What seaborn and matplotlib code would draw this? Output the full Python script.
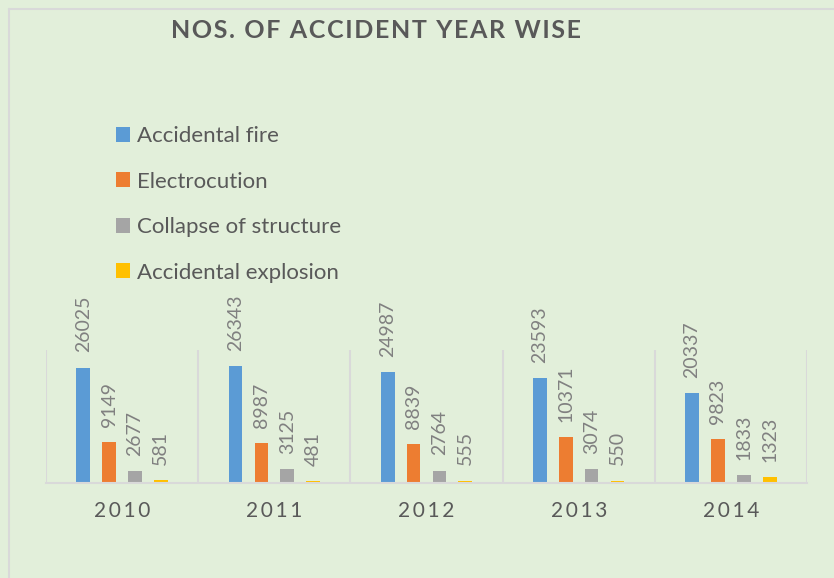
import pandas as pd
import numpy as np
import seaborn as sns
import matplotlib.pyplot as plt
from matplotlib.lines import Line2D

# chart data
years = ['2010', '2011', '2012', '2013', '2014']
causes = ['Accidental fire', 'Electrocution', 'Collapse of structure', 'Accidental explosion']
fire = [26025, 26343, 24987, 23593, 20337]
electrocution = [9149, 8987, 8839, 10371, 9823]
collapse = [2677, 3125, 2764, 3074, 1833]
explosion = [581, 481, 555, 550, 1323]
colors = ['#5B9BD5', '#ED7D31', '#A5A5A5', '#FFC000']

df = pd.DataFrame({
    'year': years * 4,
    'cause': np.repeat(causes, len(years)),
    'count': fire + electrocution + collapse + explosion,
})

bg = '#E2EFDA'
sns.set_theme(style='white', rc={'figure.facecolor': bg, 'axes.facecolor': bg})
fonts = ['Lato', 'DejaVu Sans']
plt.rcParams['font.family'] = fonts

W, H = 834, 578
fig = plt.figure(figsize=(W / 100, H / 100), dpi=100)
ax = fig.add_axes([46 / W, 1 - 483 / H, (807 - 46) / W, (483 - 350) / H])

sns.barplot(data=df, x='year', y='count', hue='cause', palette=colors,
            width=0.68, gap=0.47, linewidth=0, saturation=1, ax=ax)

ax.set_ylim(0, 30000)
ax.set_xlim(-0.5, 4.5)
ax.set_xlabel('')
ax.set_ylabel('')
ax.set_yticks([])

# spaced year labels
ax.set_xticks(range(len(years)))
ax.set_xticklabels(['\u2009'.join(y) for y in years], fontsize=15, color='#595959')
ax.tick_params(axis='x', length=0, pad=13)

for side in ['top', 'left', 'right']:
    ax.spines[side].set_visible(False)
ax.spines['bottom'].set_color('#D9D9D9')
ax.spines['bottom'].set_linewidth(1.5)

# category separators
for xb in np.arange(-0.5, 5, 1):
    ax.axvline(xb, color='#D9D9D9', lw=1.5, zorder=0)

for c in ax.containers:
    ax.bar_label(c, rotation=90, padding=11, color='#808080', fontsize=14)

handles, labels = ax.get_legend_handles_labels()
ax.get_legend().remove()
fig.legend(handles, labels, loc='upper left', bbox_to_anchor=(116 / W, 1 - 126 / H),
           frameon=False, fontsize=16, labelcolor='#595959',
           handlelength=0.65, handleheight=0.65, handletextpad=0.3,
           labelspacing=1.15, borderpad=0, borderaxespad=0)

title = 'NOS. OF ACCIDENT YEAR WISE'
fig.text(376 / W, 1 - 30 / H, '\u200a'.join(title), ha='center', va='center',
         fontsize=18, fontweight='bold', color='#595959')

# chart area border (left and top)
fig.add_artist(Line2D([9 / W, 9 / W], [0, 1 - 9 / H], color='#D9D9D9', lw=1.5))
fig.add_artist(Line2D([9 / W, 1], [1 - 9 / H, 1 - 9 / H], color='#D9D9D9', lw=1.5))

fig.savefig('out.png', dpi=100, facecolor=bg)
